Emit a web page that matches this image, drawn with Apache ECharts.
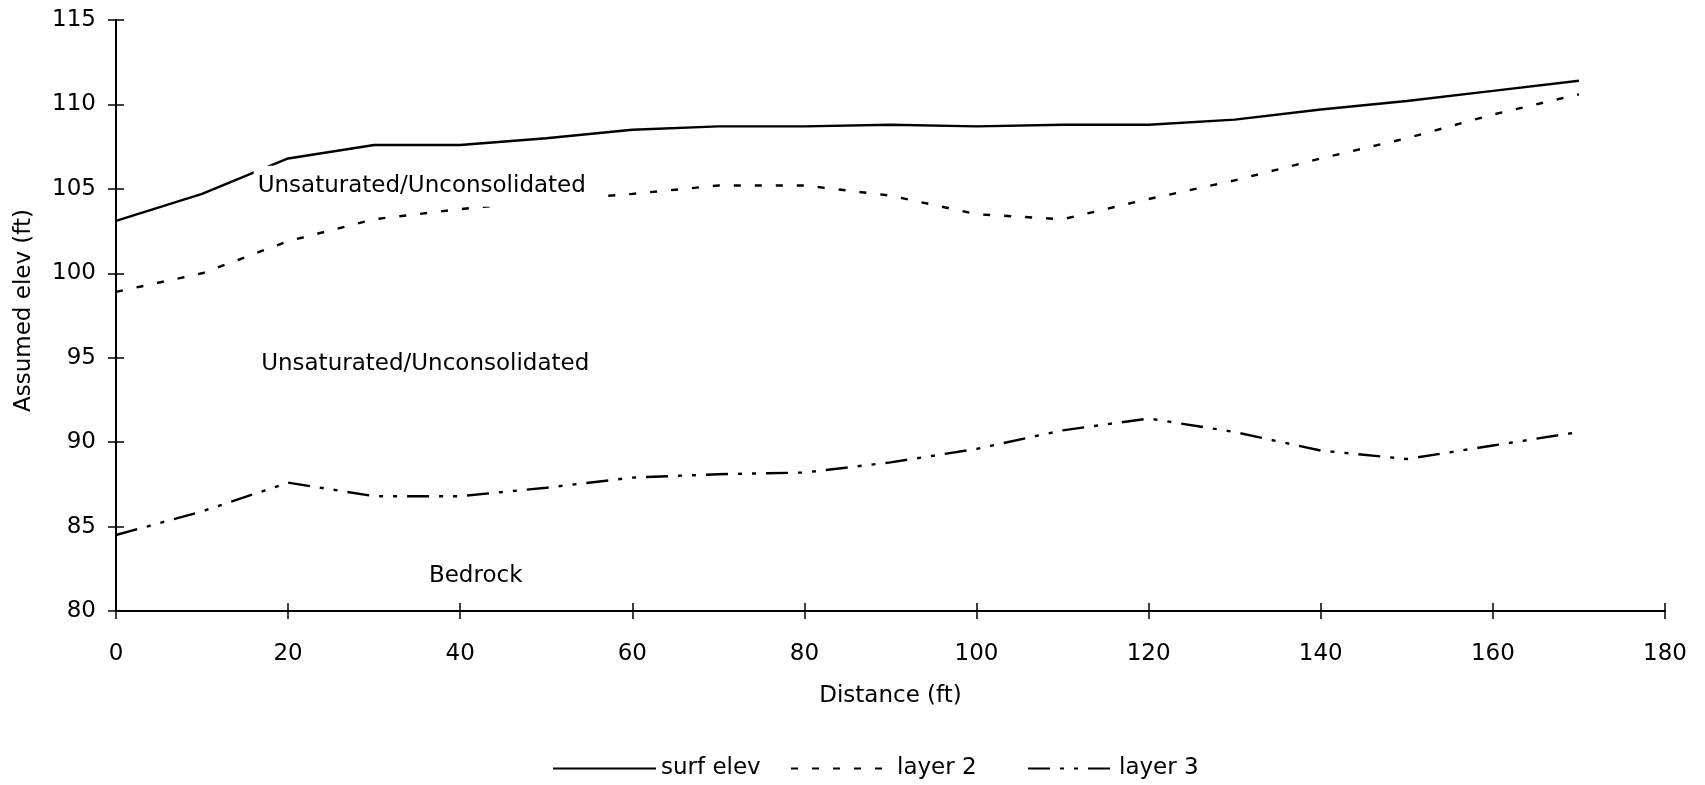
<!DOCTYPE html>
<html>
<head>
<meta charset="utf-8">
<script src="https://cdn.jsdelivr.net/npm/echarts@6/dist/echarts.min.js"></script>
<style>
html,body{margin:0;padding:0;background:#fff;}
#chart{width:1705px;height:785px;}
</style>
</head>
<body>
<div id="chart"></div>
<script>
const distance = [0, 10, 20, 30, 40, 50, 60, 70, 80, 90, 100, 110, 120, 130, 140, 150, 160, 170];
const surfElev = [103.1, 104.7, 106.8, 107.6, 107.6, 108.0, 108.5, 108.7, 108.7, 108.8, 108.7, 108.8, 108.8, 109.1, 109.7, 110.2, 110.8, 111.4];
const layer2 = [98.9, 100.0, 101.9, 103.2, 103.8, 104.3, 104.7, 105.2, 105.2, 104.6, 103.5, 103.2, 104.4, 105.5, 106.8, 108.0, 109.4, 110.6];
const layer3 = [84.5, 85.9, 87.6, 86.8, 86.8, 87.3, 87.9, 88.1, 88.2, 88.8, 89.6, 90.7, 91.4, 90.6, 89.5, 89.0, 89.8, 90.6];
const seriesNames = ['surf elev', 'layer 2', 'layer 3'];
const zoneText = ['Unsaturated/Unconsolidated', 'Unsaturated/Unconsolidated', 'Bedrock'];
const zoneX = [16.0, 16.4, 35.9];
const zoneY = [105.15, 94.6, 82.1];

const FONT = 'DejaVu Sans';
const FS = 23;
const toPairs = arr => distance.map((d, i) => [d, arr[i]]);

const chart = echarts.init(document.getElementById('chart'), null, {renderer: 'canvas'});
const axisCommon = {
  axisLine: {show: true, lineStyle: {color: '#000', width: 2}},
  splitLine: {show: false},
};
const legendCommon = {
  top: 752, itemHeight: 14, itemGap: 0,
  itemStyle: {opacity: 0},
  textStyle: {fontFamily: FONT, fontSize: FS, color: '#000'}
};
chart.setOption({
  backgroundColor: '#fff',
  animation: false,
  textStyle: {fontFamily: FONT, color: '#000'},
  grid: {left: 116, right: 40, top: 20, bottom: 174, containLabel: false},
  xAxis: [{
    type: 'value', min: 0, max: 180, interval: 20, position: 'bottom',
    name: 'Distance (ft)', nameLocation: 'middle', nameGap: 74,
    nameTextStyle: {fontFamily: FONT, fontSize: FS, color: '#000'},
    ...axisCommon,
    axisTick: {show: true, inside: false, length: 8, lineStyle: {color: '#000', width: 1.5}},
    axisLabel: {fontFamily: FONT, fontSize: FS, color: '#000', margin: 32}
  }, {
    type: 'value', min: 0, max: 180, interval: 20, position: 'bottom',
    ...axisCommon,
    axisTick: {show: true, inside: true, length: 8, lineStyle: {color: '#000', width: 1.5}},
    axisLabel: {show: false}
  }],
  yAxis: [{
    type: 'value', min: 80, max: 115, interval: 5, position: 'left',
    name: 'Assumed elev (ft)', nameLocation: 'middle', nameGap: 80, nameRotate: 90,
    nameTextStyle: {fontFamily: FONT, fontSize: FS, color: '#000', padding: [0, 0, 0, 10]},
    ...axisCommon,
    axisTick: {show: true, inside: false, length: 8, lineStyle: {color: '#000', width: 1.5}},
    axisLabel: {fontFamily: FONT, fontSize: FS, color: '#000', margin: 20}
  }, {
    type: 'value', min: 80, max: 115, interval: 5, position: 'left',
    ...axisCommon,
    axisTick: {show: true, inside: true, length: 8, lineStyle: {color: '#000', width: 1.5}},
    axisLabel: {show: false}
  }],
  legend: [
    {...legendCommon, data: [seriesNames[0]], left: 547, itemWidth: 103,
      textStyle: {...legendCommon.textStyle, padding: [0, 0, 0, 0]}},
    {...legendCommon, data: [seriesNames[1]], left: 785, itemWidth: 100,
      textStyle: {...legendCommon.textStyle, padding: [0, 0, 0, 1]}},
    {...legendCommon, data: [seriesNames[2]], left: 1022, itemWidth: 86,
      textStyle: {...legendCommon.textStyle, padding: [0, 0, 0, 0]}}
  ],
  series: [{
    name: seriesNames[0], type: 'line', data: toPairs(surfElev), symbol: 'none',
    itemStyle: {color: '#000'},
    lineStyle: {color: '#000', width: 2.4, type: 'solid'}, z: 2
  }, {
    name: seriesNames[1], type: 'line', data: toPairs(layer2), symbol: 'none',
    itemStyle: {color: '#000'},
    lineStyle: {color: '#000', width: 2.4, type: [7, 14]}, z: 2
  }, {
    name: seriesNames[2], type: 'line', data: toPairs(layer3), symbol: 'none',
    itemStyle: {color: '#000'},
    lineStyle: {color: '#000', width: 2.4, type: [22, 10, 4, 10, 4, 10]}, z: 2
  }, {
    name: 'zones', type: 'scatter', z: 10, symbolSize: 0, silent: true,
    itemStyle: {opacity: 1, color: '#fff'},
    data: zoneText.map((t, i) => ({value: [zoneX[i], zoneY[i]], name: t})),
    label: {
      show: true, position: 'right', distance: 0, opacity: 1,
      formatter: p => p.name,
      fontFamily: FONT, fontSize: FS, color: '#000',
      backgroundColor: '#fff', padding: [10, 12, 8, 4]
    }
  }]
});
</script>
</body>
</html>
